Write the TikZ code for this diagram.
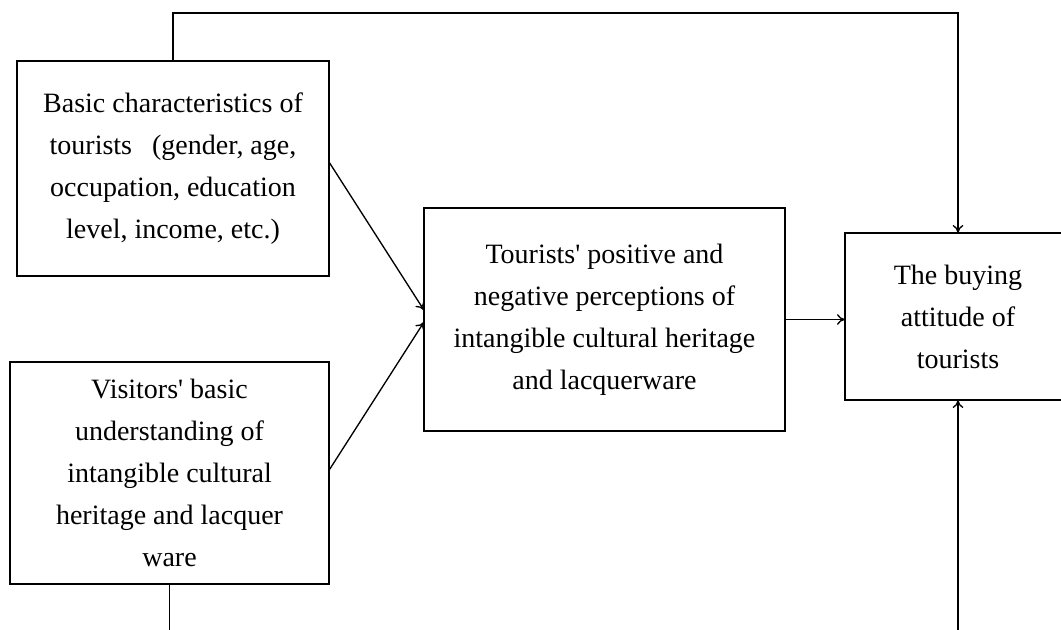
\documentclass[tikz,border=0pt]{standalone}
\usepackage{fontspec}
\setmainfont{Liberation Serif}
\usetikzlibrary{arrows.meta}
\newcommand{\ap}{\textquotesingle}
\begin{document}
\begin{tikzpicture}[x=0.75pt,y=-0.75pt,
  box/.style={draw,line width=1.5pt,inner sep=0pt,outer sep=0pt,align=center,
    font=\fontsize{21}{31.5}\selectfont},
  conn/.style={line width=1pt},
  arr/.style={conn,-{To[length=6pt,width=8pt]}}]
\useasboundingbox (0,0) rectangle (1061,630);
\node[box,minimum width=234pt,minimum height=161.25pt] (A) at (173,168.5)
  {Basic characteristics of\\ tourists\hspace{15pt}(gender, age,\\ occupation, education\\ level, income, etc.)};
\node[box,minimum width=239.25pt,minimum height=166.5pt] (B) at (169.5,473)
  {Visitors\ap{} basic\\ understanding of\\ intangible cultural\\ heritage and lacquer\\ ware};
\node[box,minimum width=270.75pt,minimum height=167.25pt] (C) at (604.5,319.5)
  {Tourists\ap{} positive and\\ negative perceptions of\\ intangible cultural heritage\\ and lacquerware};
\node[box,minimum width=169.5pt,minimum height=125.25pt] (D) at (958,316.5)
  {The buying\\ attitude of\\ tourists};
\coordinate (top) at (0,13);
\coordinate (bot) at (0,632);
\draw[arr] (A.north) -- (A.north |- top) -| (D.north);
\draw[conn] (B.south) -- (B.south |- bot);
\draw[arr] (D.south |- bot) -- (D.south);
\draw[arr] ([yshift=4.9pt]A.east) -- ([yshift=7pt]C.west);
\draw[arr] ([yshift=2pt]B.east) -- ([yshift=-1.9pt]C.west);
\draw[arr] (C.east) -- (C.east -| D.west);
\end{tikzpicture}
\end{document}
